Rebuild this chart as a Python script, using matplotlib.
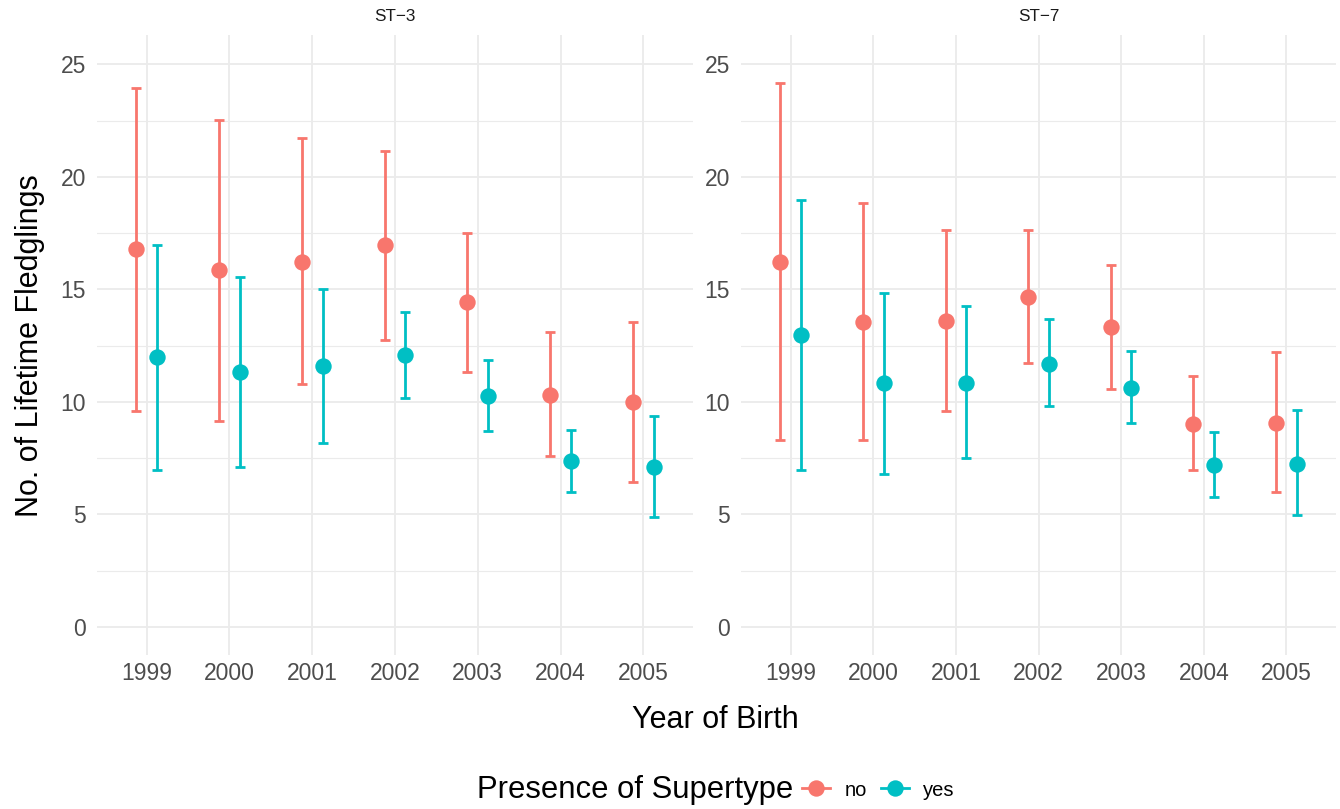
import matplotlib
matplotlib.use("Agg")
import matplotlib.pyplot as plt
from matplotlib.lines import Line2D
from matplotlib.offsetbox import HPacker
import numpy as np

plt.rcParams['font.family'] = ['Liberation Sans', 'DejaVu Sans']

years = ["1999", "2000", "2001", "2002", "2003", "2004", "2005"]
panels = ["ST\u22123", "ST\u22127"]
groups = ["no", "yes"]
colors = {"no": "#F8766D", "yes": "#00BFC4"}

# ST-3
st3_no_mean = [16.78, 15.85, 16.21, 16.96, 14.43, 10.30, 9.99]
st3_no_low = [9.59, 9.15, 10.79, 12.74, 11.32, 7.59, 6.44]
st3_no_high = [23.93, 22.51, 21.71, 21.14, 17.50, 13.10, 13.54]
st3_yes_mean = [11.99, 11.32, 11.59, 12.08, 10.26, 7.37, 7.10]
st3_yes_low = [6.97, 7.10, 8.17, 10.17, 8.70, 5.99, 4.88]
st3_yes_high = [16.96, 15.54, 15.01, 13.99, 11.86, 8.75, 9.37]

# ST-7
st7_no_mean = [16.21, 13.54, 13.59, 14.65, 13.32, 9.01, 9.06]
st7_no_low = [8.30, 8.30, 9.59, 11.72, 10.57, 6.97, 5.99]
st7_no_high = [24.16, 18.83, 17.63, 17.63, 16.07, 11.15, 12.21]
st7_yes_mean = [12.97, 10.83, 10.83, 11.68, 10.61, 7.19, 7.24]
st7_yes_low = [6.97, 6.79, 7.50, 9.81, 9.06, 5.77, 4.97]
st7_yes_high = [18.96, 14.83, 14.25, 13.68, 12.26, 8.66, 9.64]

data = {
    panels[0]: {"no": (st3_no_mean, st3_no_low, st3_no_high),
                "yes": (st3_yes_mean, st3_yes_low, st3_yes_high)},
    panels[1]: {"no": (st7_no_mean, st7_no_low, st7_no_high),
                "yes": (st7_yes_mean, st7_yes_low, st7_yes_high)},
}

W, H = 1340, 809
fig = plt.figure(figsize=(W / 100, H / 100), dpi=100)

panel_px = [(97, 693), (741, 1336)]
top_px, bot_px = 35, 655
dodge = {"no": -0.125, "yes": 0.125}
grid_c = "#EBEBEB"

x = np.arange(1, len(years) + 1)
for (x0, x1), pname in zip(panel_px, panels):
    ax = fig.add_axes([x0 / W, 1 - bot_px / H, (x1 - x0) / W, (bot_px - top_px) / H])
    ax.set_xlim(0.4, len(years) + 0.6)
    ax.set_ylim(-1.25, 26.3)
    for s in ax.spines.values():
        s.set_visible(False)
    ax.set_yticks([0, 5, 10, 15, 20, 25])
    ax.set_yticks([2.5, 7.5, 12.5, 17.5, 22.5], minor=True)
    ax.set_xticks(x)
    ax.set_xticklabels(years)
    ax.tick_params(axis='both', which='both', length=0, labelsize=16.5, colors="#4D4D4D", pad=5)
    ax.tick_params(axis='y', pad=8)
    ax.grid(True, which='major', color=grid_c, linewidth=1.3)
    ax.grid(True, which='minor', axis='y', color=grid_c, linewidth=0.8)
    ax.set_axisbelow(True)
    for g in groups:
        m, lo, hi = data[pname][g]
        m = np.array(m); lo = np.array(lo); hi = np.array(hi)
        xs = x + dodge[g]
        ax.errorbar(xs, m, yerr=[m - lo, hi - m], fmt='none', ecolor=colors[g],
                    elinewidth=2.0, capsize=3.3, capthick=2.0, zorder=3)
        ax.plot(xs, m, 'o', color=colors[g], markersize=11.8, markeredgewidth=0, zorder=4)
    ax.set_title(pname, fontsize=12.3, color="#1A1A1A", pad=10)

fig.text(30 / W, 1 - 346 / H, "No. of Lifetime Fledglings", rotation=90,
         ha='center', va='center', fontsize=22, color='black')
fig.text(715 / W, 1 - 720 / H, "Year of Birth", ha='center', va='center',
         fontsize=22, color='black')

handles = [Line2D([0], [0], color=colors[g], marker='o', markersize=11.8, lw=2.0,
                  markeredgewidth=0) for g in groups]
leg = fig.legend(handles, groups, loc='center', bbox_to_anchor=(716 / W, 1 - 790 / H),
                 ncol=2, frameon=False, fontsize=14.5, title="Presence of Supertype",
                 title_fontsize=22.3, handlelength=1.4, handletextpad=0.7,
                 columnspacing=0.7)
title_box = leg._legend_title_box
entries = leg._legend_handle_box
leg._legend_box._children = [HPacker(pad=0, sep=6, children=[title_box, entries], align='center')]

fig.savefig("out.png", dpi=100)
